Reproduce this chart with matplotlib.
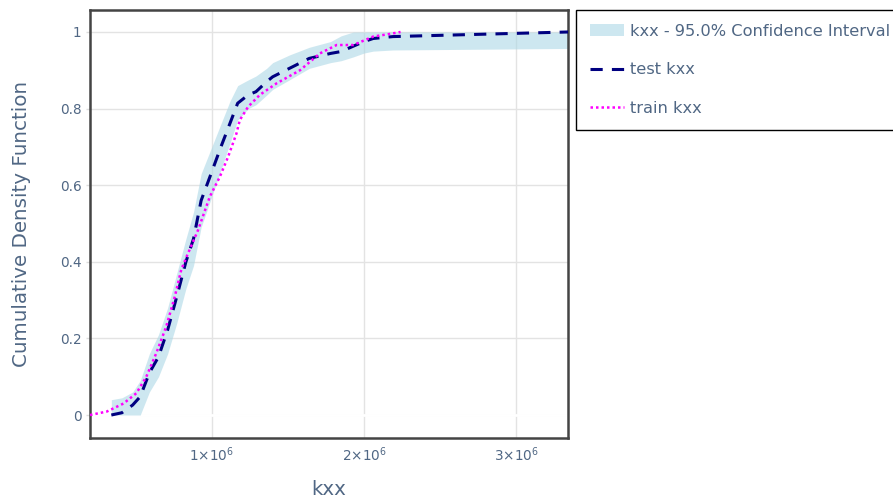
import matplotlib
matplotlib.use("Agg")
import matplotlib.pyplot as plt

plt.rcParams['font.family'] = ['DejaVu Sans']
plt.rcParams['mathtext.fontset'] = 'dejavusans'

# test CDF (x in units of 1e6)
test_x = [0.34, 0.41, 0.48, 0.53, 0.59, 0.65, 0.71, 0.77, 0.83, 0.88, 0.93, 1.00, 1.06, 1.12,
          1.17, 1.24, 1.29, 1.36, 1.40, 1.51, 1.64, 1.78, 1.85, 1.93, 2.00, 2.06, 2.19, 3.34]
test_y = [0.0, 0.006, 0.026, 0.048, 0.11, 0.152, 0.222, 0.309, 0.40, 0.46, 0.56, 0.635, 0.70, 0.762,
          0.814, 0.836, 0.844, 0.870, 0.883, 0.905, 0.931, 0.944, 0.949, 0.963, 0.975, 0.983, 0.988, 1.0]
ci_lower = [0.0, 0.0, 0.0, 0.0, 0.06, 0.10, 0.16, 0.24, 0.33, 0.39, 0.49, 0.57, 0.64, 0.71,
            0.77, 0.80, 0.81, 0.835, 0.85, 0.875, 0.905, 0.92, 0.925, 0.935, 0.945, 0.95, 0.953, 0.957]
ci_upper = [0.04, 0.045, 0.06, 0.09, 0.16, 0.21, 0.28, 0.37, 0.46, 0.53, 0.63, 0.70, 0.76, 0.82,
            0.86, 0.875, 0.885, 0.905, 0.92, 0.94, 0.96, 0.975, 0.99, 1.0, 1.0, 1.0, 1.0, 1.0]

# train CDF
train_x = [0.20, 0.31, 0.42, 0.505, 0.57, 0.636, 0.70, 0.757, 0.80, 0.834, 0.91, 0.987, 1.053, 1.107,
           1.162, 1.184, 1.239, 1.316, 1.426, 1.579, 1.71, 1.82, 1.93, 2.06, 2.17, 2.24]
train_y = [0.0, 0.009, 0.03, 0.057, 0.10, 0.162, 0.23, 0.309, 0.38, 0.413, 0.483, 0.57, 0.622, 0.674,
           0.735, 0.770, 0.805, 0.836, 0.866, 0.90, 0.944, 0.966, 0.966, 0.988, 0.995, 1.0]

x_ticks = [1, 2, 3]
x_ticklabels = ["1×10$^{6}$", "2×10$^{6}$", "3×10$^{6}$"]
y_ticks = [0, 0.2, 0.4, 0.6, 0.8, 1.0]
y_ticklabels = ["0", "0.2", "0.4", "0.6", "0.8", "1"]

txt = '#506784'
W, H = 893, 504
fig = plt.figure(figsize=(W / 100, H / 100), dpi=100)
ax = fig.add_axes([90 / W, (H - 438) / H, 478 / W, 428 / H])

sc = 1e6
ci = ax.fill_between([v * sc for v in test_x], ci_lower, ci_upper, color='lightblue', alpha=0.6,
                     linewidth=0, label='kxx - 95.0% Confidence Interval', zorder=2)
test_line, = ax.plot([v * sc for v in test_x], test_y, color='#000080', lw=2.2,
                     dashes=(4, 3), label='test kxx', zorder=3)
train_line, = ax.plot([v * sc for v in train_x], train_y, color='magenta', lw=1.8,
                      dashes=(1, 1.2), label='train kxx', zorder=4)

ax.set_xlim(0.2 * sc, 3.34 * sc)
ax.set_ylim(-0.06, 1.0574)
ax.set_xticks([v * sc for v in x_ticks])
ax.set_xticklabels(x_ticklabels)
ax.set_yticks(y_ticks)
ax.set_yticklabels(y_ticklabels)
ax.grid(True, color='#e3e3e3', lw=1)
ax.set_axisbelow(True)
ax.axhline(0, color='white', lw=2, zorder=1.5)

ax.tick_params(axis='both', labelsize=9.8, labelcolor=txt, color='#dddddd', length=3, width=1)
ax.tick_params(axis='x', length=0, pad=5)
ax.tick_params(axis='y', pad=3)
for s in ax.spines.values():
    s.set_color('#444444')
    s.set_linewidth(1.8)

ax.set_xlabel('kxx', fontsize=14.3, color=txt, labelpad=12)
ax.set_ylabel('Cumulative Density Function', fontsize=14.3, color=txt, labelpad=21)

leg = fig.legend(handles=[ci, test_line, train_line], loc='upper left',
                 bbox_to_anchor=(576 / W, 1 - 10 / H), borderaxespad=0, fontsize=11.7,
                 frameon=True, fancybox=False, edgecolor='black', framealpha=1,
                 handlelength=2.1, handletextpad=0.4, labelspacing=1.45, borderpad=0.85)
leg.get_frame().set_linewidth(1)
for t in leg.get_texts():
    t.set_color(txt)

fig.savefig('out.png', dpi=100)
